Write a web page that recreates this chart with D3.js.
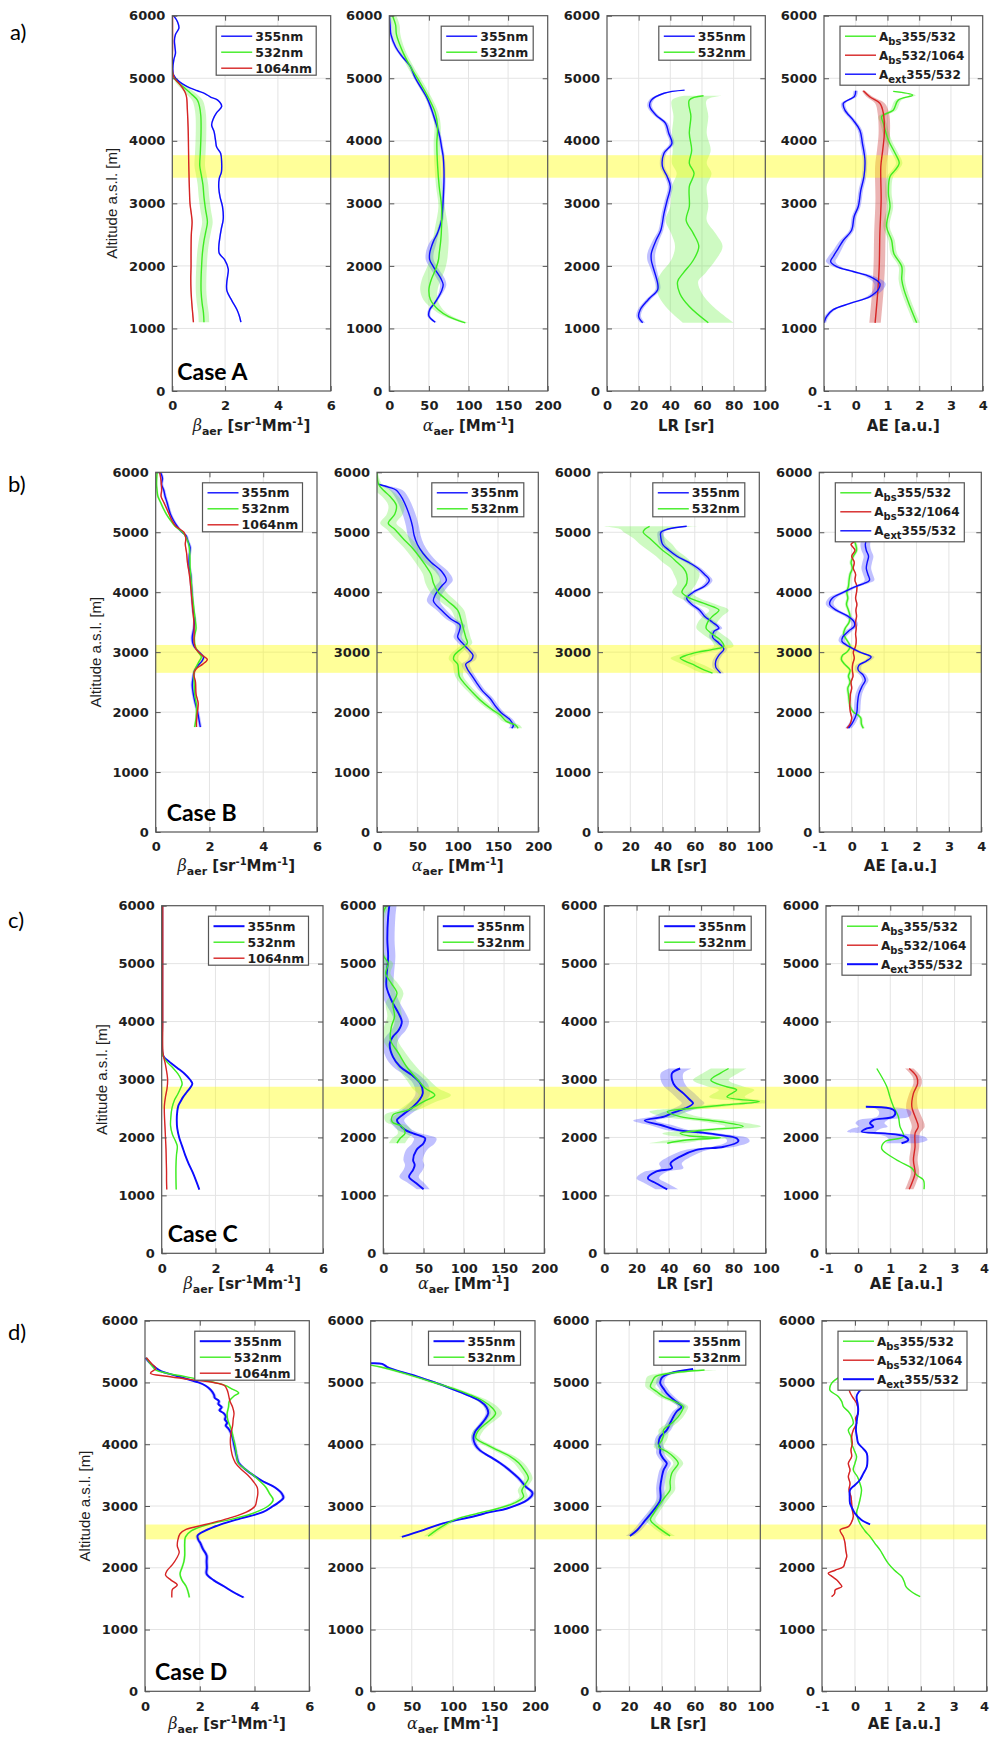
<!DOCTYPE html>
<html>
<head>
<meta charset="utf-8">
<script src="https://cdn.jsdelivr.net/npm/d3@7"></script>
<style>
  body { margin: 0; background: #fff; }
  svg { display: block; }
</style>
</head>
<body>
<svg id="fig" width="990" height="1739"></svg>
<script>
// ---------------------------------------------------------------
// Lidar profiles, four cases. Each point: [altitude m, value, (uncertainty)]
// ---------------------------------------------------------------
const altTicks   = [0, 1000, 2000, 3000, 4000, 5000, 6000];
const betaTicks  = [0, 2, 4, 6];
const alphaTicks = [0, 50, 100, 150, 200];
const lrTicks    = [0, 20, 40, 60, 80, 100];
const aeTicks    = [-1, 0, 1, 2, 3, 4];

const caseNames = ["Case A", "Case B", "Case C", "Case D"];
const rowLabels = ["a)", "b)", "c)", "d)"];
const wavelengths = ["355nm", "532nm", "1064nm"];
const aeNames = [["A", "bs", "355/532"], ["A", "bs", "532/1064"], ["A", "ext", "355/532"]];

// highlighted layer per case [bottom, top] in m
const layerBounds = [[3410, 3770], [2655, 3120], [2495, 2875], [2460, 2700]];

// ---------------- Case A ----------------
const caseA_beta355 = [[6000,0.05],[5900,0.2],[5800,0.25],[5700,0.12],[5600,0.08],[5500,0.1],[5400,0.12],[5300,0.06],[5150,0.02],[5050,0.05],[4950,0.25],[4870,0.55],[4800,0.95],[4750,1.25],[4700,1.45],[4650,1.72],[4550,1.87],[4450,1.68],[4350,1.55],[4250,1.49],[4150,1.58],[4000,1.64],[3900,1.68],[3800,1.83],[3650,1.87],[3500,1.86],[3400,1.78],[3250,1.76],[3100,1.81],[2950,1.9],[2750,1.93],[2600,1.86],[2450,1.8],[2300,1.76],[2200,1.78],[2100,1.98],[1950,2.12],[1850,2.1],[1720,2.06],[1600,2.07],[1450,2.25],[1300,2.45],[1200,2.54],[1100,2.6]];
const caseA_beta532 = [[6000,0,0],[5100,0,0],[5000,0.08,0.05],[4920,0.25,0.1],[4850,0.45,0.15],[4750,0.72],[4650,0.95],[4550,1.03],[4400,1.08],[4200,1.09],[4000,1.08],[3800,1.06],[3600,1.04],[3450,1.1],[3300,1.16],[3100,1.2],[2900,1.26],[2700,1.33],[2550,1.27],[2400,1.2],[2200,1.14],[2000,1.11],[1800,1.09],[1600,1.09],[1400,1.13],[1250,1.18],[1100,1.2]];
const caseA_beta1064 = [[6000,0.01],[5500,0.01],[5100,0.01],[5000,0.08],[4920,0.25],[4850,0.38],[4780,0.48],[4700,0.54],[4500,0.57],[4200,0.6],[4000,0.61],[3700,0.62],[3500,0.63],[3200,0.65],[3000,0.67],[2800,0.73],[2700,0.75],[2500,0.72],[2200,0.71],[2000,0.71],[1800,0.7],[1600,0.71],[1400,0.74],[1250,0.77],[1100,0.8]];
const caseA_alpha355 = [[6000,0],[5850,1],[5700,2],[5500,8],[5350,16],[5200,26],[5000,33],[4850,40],[4700,47],[4550,52],[4400,56],[4200,61],[4050,64],[3900,66],[3750,68],[3550,69],[3350,69],[3050,68],[2850,67],[2730,66],[2600,63],[2500,60],[2400,56,4],[2300,53,5],[2200,51,5],[2100,51,5],[2000,55,5],[1900,60,5],[1800,65,5],[1700,68,4],[1600,66,3],[1500,62],[1400,57],[1300,51],[1200,50],[1100,58]];
const caseA_alpha532 = [[6000,4,5],[5850,8,5],[5700,9,5],[5450,16],[5200,26],[4970,37],[4700,49],[4450,58],[4230,61],[3960,60],[3600,61],[3270,63],[2950,66],[2630,66,8],[2410,65,10],[2200,63,11],[2090,62,11],[1930,58,12],[1780,53,12],[1620,50,11],[1460,52,9],[1300,62,6],[1190,75,5],[1090,96,4]];
const caseA_lr355 = [[4810,49],[4760,36],[4650,28],[4550,27],[4410,31],[4280,37],[4120,39],[3960,41],[3800,36],[3590,35],[3430,38],[3270,40],[3050,38],[2840,36],[2570,34],[2410,31,2],[2200,28,2.5],[2090,28,2.5],[1990,29,2],[1720,32],[1620,32],[1460,26],[1300,21],[1190,20],[1090,22.5]];
const caseA_lr532 = [[4720,61,12],[4650,52,11],[4390,53,11],[4120,52,11],[3850,53.5,12],[3640,52,11],[3480,55,11],[3270,52,11],[2950,52,12],[2730,50,13],[2520,54.5,14],[2310,58,15],[2090,54.5,14],[1880,48,14],[1750,44.6,13],[1560,46,14],[1350,52,15],[1090,64,16]];
const caseA_aeBs355 = [[4790,1.18],[4730,1.79],[4650,1.34],[4490,1.18],[4390,0.82],[4280,0.87],[4010,1.03],[3800,1.24],[3640,1.37],[3530,1.24],[3430,1.08],[3160,1.03],[2950,1.08],[2630,0.97],[2410,1.13],[2200,1.2],[1990,1.45],[1780,1.45],[1620,1.52],[1350,1.71],[1090,1.92]];
const caseA_aeBs532 = [[4800,0.24,0.05],[4700,0.45,0.1],[4600,0.76,0.15],[4440,0.87],[4120,0.9],[3850,0.85],[3590,0.79],[3050,0.8],[2520,0.76],[1990,0.74],[1560,0.69],[1090,0.61]];
const caseA_aeExt = [[4800,0],[4710,-0.04],[4600,-0.39],[4490,-0.34],[4330,-0.08],[4170,0.13],[3960,0.21],[3690,0.29],[3430,0.26],[3210,0.16],[2950,0.08],[2790,-0.05],[2570,-0.13],[2410,-0.39,0.1],[2280,-0.55,0.12],[2150,-0.71,0.15],[2070,-0.79,0.15],[1990,-0.6,0.12],[1910,-0.08,0.1],[1830,0.45,0.15],[1720,0.76,0.18],[1620,0.71,0.15],[1510,0.45,0.1],[1400,-0.18],[1300,-0.71],[1190,-0.92],[1090,-1]];

// ---------------- Case B ----------------
const caseB_beta355 = [[6000,0.18],[5900,0.25],[5800,0.22],[5700,0.3],[5600,0.35],[5500,0.42],[5400,0.48],[5300,0.55],[5200,0.66],[5100,0.8],[5000,0.98],[4950,1.12],[4850,1.2],[4750,1.28],[4600,1.25],[4450,1.24],[4300,1.3],[4100,1.33],[3900,1.36],[3700,1.39],[3550,1.45],[3400,1.42],[3250,1.36],[3150,1.38],[3080,1.45],[3000,1.62],[2920,1.78],[2850,1.72],[2780,1.58],[2700,1.45],[2600,1.4],[2450,1.36],[2300,1.4],[2150,1.47],[2000,1.56],[1850,1.62],[1750,1.66]];
const caseB_beta532 = [[6000,0.05],[5800,0.03],[5700,0.05],[5600,0.08],[5500,0.18],[5400,0.28],[5300,0.4],[5200,0.55],[5100,0.72],[5000,1.0],[4900,1.15],[4750,1.25],[4600,1.27],[4400,1.28],[4200,1.32],[4000,1.35],[3800,1.4],[3600,1.45],[3400,1.5],[3250,1.44],[3100,1.47],[3000,1.58],[2920,1.7],[2850,1.62],[2750,1.5],[2650,1.42],[2500,1.43],[2300,1.45],[2100,1.52],[1900,1.5],[1750,1.45]];
const caseB_beta1064 = [[6000,0.15],[5850,0.2],[5700,0.22],[5600,0.2],[5500,0.3],[5400,0.4],[5300,0.5],[5200,0.6],[5100,0.75],[5000,1.05],[4900,1.12],[4800,1.1],[4650,1.15],[4500,1.18],[4300,1.25],[4100,1.3],[3900,1.34],[3700,1.38],[3500,1.42],[3300,1.43],[3150,1.43],[3050,1.5],[2950,1.72],[2880,1.92],[2800,1.75],[2720,1.5],[2640,1.42],[2500,1.48],[2300,1.5],[2150,1.58],[2000,1.55],[1850,1.52],[1750,1.52]];
const caseB_alpha355 = [[5800,2,2],[5750,15,6],[5700,24],[5550,32],[5400,37],[5250,41],[5100,44],[4950,46],[4800,50],[4650,57],[4500,67],[4350,80],[4200,86],[4100,80],[3950,72],[3850,70],[3700,80,6],[3550,92,6],[3450,103,6],[3350,102,5],[3250,100,5],[3150,106,5],[3050,113,5],[2950,119,5],[2870,117,5],[2800,110,5],[2720,112,5],[2620,117,4],[2500,123,4],[2350,131,4],[2230,140,4],[2080,148,4],[1990,154,4],[1870,165,4],[1770,169,4],[1730,167,4]];
const caseB_alpha532 = [[6000,0,1],[5800,2,4],[5700,8],[5600,16],[5450,24],[5300,22],[5150,14],[5050,22],[4900,32],[4750,43],[4600,52],[4450,60],[4300,67],[4150,70],[4000,76],[3850,88],[3700,100,8],[3550,104,7],[3400,107,6],[3250,110,6],[3150,112,6],[3050,104,6],[2950,96,6],[2880,95,6],[2800,100,6],[2700,101,6],[2600,102,5],[2500,107,5],[2350,117,5],[2200,128,5],[2050,142,5],[1950,153,5],[1850,160,5],[1780,172,5],[1730,175,5]];
const caseB_lr355 = [[5100,55],[5050,43],[5000,39],[4900,39],[4800,40],[4700,44],[4600,49],[4500,56],[4400,62],[4300,66],[4200,69],[4100,66],[4000,59],[3900,55],[3800,58],[3700,63],[3600,66],[3500,71],[3400,75],[3350,72],[3250,71],[3150,75],[3050,78],[2950,75],[2850,73],[2750,73],[2680,75],[2650,76]];
const caseB_lr532 = [[5100,32,30],[5050,29,15],[5000,28,12],[4900,32,10],[4800,36,10],[4700,40,9],[4600,45,9],[4500,49,9],[4400,53,8],[4300,55,8],[4150,55],[4000,52],[3900,57],[3800,67],[3700,75],[3600,71],[3500,68],[3400,67],[3300,71],[3200,76],[3100,78],[3050,72],[3000,62],[2950,55],[2900,51],[2850,54],[2780,60],[2700,66],[2650,71]];
const caseB_aeBs355 = [[5000,-0.05],[4900,0.05],[4800,0.12],[4700,0.15],[4600,0.05],[4500,-0.02],[4400,0.02],[4300,-0.05],[4200,-0.08],[4100,-0.1],[4000,-0.15],[3900,-0.12],[3800,-0.16],[3700,-0.1],[3600,-0.05],[3500,-0.08],[3400,-0.2],[3300,-0.25],[3200,-0.15],[3100,-0.05],[3000,-0.15],[2950,-0.28],[2880,-0.32],[2800,-0.22],[2700,-0.05],[2600,-0.1],[2500,-0.05],[2400,-0.12],[2300,-0.1],[2200,-0.08],[2100,-0.05],[2000,0.05],[1950,0.2],[1900,0.28],[1800,0.3],[1730,0.36]];
const caseB_aeBs532 = [[5050,0.15],[5000,0.05],[4950,-0.02],[4900,-0.05],[4850,0.08],[4800,-0.02],[4700,0.1],[4600,0.0],[4500,0.08],[4400,0.05],[4300,0.12],[4200,0.1],[4100,0.16],[4000,0.15],[3900,0.12],[3800,0.16],[3700,0.13],[3600,0.15],[3500,0.12],[3400,0.14],[3300,0.12],[3200,0.14],[3100,0.12],[3000,0.05],[2900,0.08],[2800,0.03],[2700,0.02],[2600,0.04],[2500,-0.02],[2400,0.0],[2300,-0.04],[2200,-0.05],[2100,-0.06],[2000,-0.04],[1900,0.0],[1800,-0.05],[1730,-0.15]];
const caseB_aeExt = [[5050,1.1,0.1],[5000,0.85,0.15],[4900,0.48,0.15],[4800,0.42,0.15],[4700,0.45,0.15],[4600,0.52,0.15],[4500,0.48,0.15],[4400,0.45,0.15],[4300,0.5,0.15],[4200,0.55,0.15],[4150,0.4,0.12],[4100,0.15,0.1],[4000,-0.25,0.1],[3900,-0.6,0.12],[3800,-0.68,0.12],[3700,-0.48,0.1],[3600,-0.12],[3500,0.08],[3430,0.08],[3350,-0.1],[3250,-0.28],[3180,-0.3],[3100,-0.1],[3000,0.25],[2920,0.6],[2850,0.45],[2780,0.22],[2700,0.2],[2620,0.35],[2530,0.42],[2430,0.32],[2300,0.22],[2150,0.18],[2000,0.16],[1900,0.1],[1800,0.0],[1730,-0.1]];

// ---------------- Case C ----------------
const caseC_beta355 = [[6000,0.02],[5000,0.02],[4000,0.02],[3450,0.03],[3380,0.1],[3300,0.3],[3200,0.58],[3100,0.85],[3000,1.05],[2930,1.14],[2870,1.08],[2780,0.93],[2700,0.8],[2620,0.7],[2550,0.62],[2450,0.58],[2300,0.56],[2150,0.58],[2000,0.65],[1850,0.76],[1700,0.87],[1550,1.0],[1400,1.15],[1250,1.28],[1100,1.4]];
const caseC_beta532 = [[6000,0.0],[5200,0.0],[4000,0.0],[3450,0.02],[3380,0.08],[3300,0.2],[3200,0.42],[3100,0.6],[3000,0.72],[2920,0.76],[2850,0.7],[2750,0.6],[2650,0.48],[2500,0.38],[2350,0.34],[2200,0.33],[2050,0.4],[1950,0.5],[1850,0.58],[1700,0.55],[1500,0.53],[1300,0.53],[1100,0.54]];
const caseC_beta1064 = [[6000,0.04],[5000,0.04],[4000,0.04],[3450,0.05],[3300,0.12],[3150,0.18],[3000,0.22],[2850,0.2],[2700,0.14],[2550,0.1],[2400,0.1],[2200,0.12],[2000,0.14],[1800,0.16],[1600,0.17],[1400,0.18],[1250,0.18],[1100,0.19]];
const caseC_alpha355 = [[6000,7.5],[5810,6],[5410,5],[5120,6],[4775,4],[4600,4],[4370,10],[4140,19],[4000,23],[3850,19],[3740,12],[3620,8],[3390,12],[3220,21],[3080,35],[2930,46],[2760,49],[2650,45],[2530,37],[2420,27],[2300,17],[2240,19],[2130,27],[2070,37,10],[1985,52,14],[1900,50,14],[1780,41,13],[1610,37,12],[1525,39,12],[1440,37,12],[1320,32,12],[1210,41,10],[1105,50,8]];
const caseC_alpha532 = [[6000,4,6],[5870,0,3],[5150,0,2],[5005,6,6],[4830,3,6],[4660,10,8],[4490,17,8],[4315,12],[4085,14],[3910,10],[3680,9],[3450,19],[3220,29,12],[2990,43,14],[2850,52,16],[2730,64,20],[2620,50,16],[2475,31,12],[2390,12,10],[2270,11,8],[2190,23,8],[2070,27,9],[1985,21,10],[1900,17,10]];
const caseC_lr355 = [[3190,47],[3110,42],[2990,42],[2880,44],[2760,49],[2650,53],[2590,55],[2500,50],[2420,42],[2360,37],[2290,25],[2215,35],[2130,45],[2083,61],[2040,72],[1985,82],[1930,83],[1840,74],[1785,57],[1670,47],[1550,41],[1470,42],[1410,32],[1295,27],[1210,32],[1105,39]];
const caseC_lr532 = [[3190,77],[3110,72],[2990,66],[2880,75],[2820,82],[2700,76],[2620,96],[2560,74],[2500,53],[2445,39],[2360,47],[2270,72],[2190,86],[2130,63],[2070,47],[2025,53],[1995,72],[1955,51],[1900,39]];
const caseC_aeBs355 = [[3190,0.58],[2880,0.89],[2700,0.99],[2530,1.1],[2360,1.25],[2190,1.3],[2015,1.41],[1930,0.84],[1810,0.73],[1700,0.94],[1580,1.3],[1470,1.67],[1350,1.82],[1265,2.03],[1105,2.05]];
const caseC_aeBs532 = [[3190,1.59],[3050,1.82],[2930,1.85],[2760,1.72],[2530,1.67,0.18],[2360,1.77,0.2],[2190,1.87,0.2],[2070,1.77,0.15],[1840,1.77],[1610,1.72],[1380,1.77],[1210,1.67],[1105,1.59]];
const caseC_aeExt = [[2530,0.24,0.3],[2500,0.99,0.45],[2445,1.15,0.5],[2360,1.1,0.5],[2300,0.47,0.45],[2245,0.37,0.45],[2185,0.47,0.45],[2155,0.27,0.45],[2100,0.11,0.45],[2070,0.84,0.5],[2015,1.46,0.6],[1955,1.56,0.6],[1900,1.35,0.5]];

// ---------------- Case D ----------------
const caseD_beta355 = [[5400,0.02],[5330,0.15],[5250,0.35],[5180,0.6],[5120,1.05],[5060,1.5],[5000,1.95],[4950,2.2],[4880,2.4],[4800,2.52],[4750,2.55],[4700,2.7],[4650,2.68],[4600,2.8],[4550,2.72],[4500,2.88],[4450,2.95],[4400,2.92],[4350,3.0],[4300,2.95],[4250,3.05],[4200,3.12],[4100,3.2],[4000,3.25],[3900,3.3],[3800,3.35],[3700,3.42],[3600,3.65],[3500,3.95],[3400,4.3],[3300,4.75],[3200,5.0],[3130,5.05],[3050,4.85],[3000,4.68],[2900,4.3],[2800,3.5],[2700,2.75],[2600,2.2],[2520,1.92],[2450,1.95],[2400,2.02],[2300,2.12],[2200,2.25],[2100,2.25],[2000,2.26],[1900,2.25],[1800,2.5],[1700,2.88],[1600,3.25],[1520,3.6]];
const caseD_beta532 = [[5400,0.05],[5300,0.2],[5200,0.4],[5150,0.8],[5100,1.4],[5050,2.0],[5000,2.55],[4950,2.95],[4900,3.15],[4830,3.42],[4780,3.25],[4700,3.08],[4600,3.05],[4500,3.0],[4400,3.02],[4300,3.1],[4200,3.18],[4100,3.22],[4000,3.28],[3900,3.32],[3800,3.35],[3700,3.4],[3600,3.65],[3500,3.95],[3400,4.2],[3300,4.42],[3200,4.55],[3100,4.68],[3000,4.5],[2900,4.05],[2800,3.3],[2700,2.3],[2600,1.7],[2500,1.48],[2400,1.45],[2300,1.45],[2200,1.45],[2100,1.42],[2000,1.35],[1900,1.28],[1800,1.35],[1700,1.5],[1600,1.58],[1520,1.62]];
const caseD_beta1064 = [[5400,0.05],[5300,0.25],[5230,0.4],[5150,0.2],[5100,0.8],[5050,1.6],[5000,2.5],[4950,2.9],[4880,3.0],[4800,3.05],[4700,3.1],[4600,3.2],[4500,3.25],[4400,3.22],[4300,3.2],[4200,3.15],[4100,3.12],[4000,3.12],[3900,3.15],[3800,3.2],[3700,3.3],[3600,3.5],[3500,3.75],[3400,3.95],[3300,4.1],[3200,4.12],[3100,4.08],[3000,4.02],[2900,3.7],[2800,3.05],[2700,2.2],[2620,1.5],[2550,1.28],[2450,1.2],[2350,1.18],[2250,1.25],[2150,1.15],[2050,1.0],[1950,0.8],[1880,0.75],[1800,0.95],[1720,1.18],[1650,1.0],[1580,0.98],[1520,0.98]];
const caseD_alpha355 = [[5310,0],[5300,14],[5250,20],[5200,30],[5100,56],[5000,78],[4900,98],[4800,117],[4700,133],[4600,141],[4500,143],[4400,139],[4300,133],[4200,127],[4100,125],[4000,127],[3900,133],[3800,145],[3700,157],[3580,169],[3450,180],[3310,189],[3205,197],[3100,191],[2960,166],[2900,145],[2830,125],[2720,88],[2610,64],[2500,38]];
const caseD_alpha532 = [[5280,0],[5250,12],[5150,40],[5000,77],[4900,101],[4800,121],[4700,137,7],[4600,147,8],[4500,152,8],[4400,146,7],[4300,137,6],[4200,130,6],[4100,128],[4000,140],[3900,155],[3800,170,6],[3700,180,6],[3600,186,6],[3450,192],[3350,188],[3250,184],[3150,186],[3050,175],[2960,155],[2880,130],[2770,101],[2610,80],[2510,70]];
const caseD_lr355 = [[5218,59],[5148,45],[5080,40],[4986,39],[4900,41],[4824,43],[4700,48],[4608,52],[4530,49],[4446,47],[4340,45],[4231,43],[4120,39],[4015,38],[3930,39],[3853,39],[3760,41],[3691,43],[3580,41],[3475,40],[3300,39],[3097,39],[2935,35],[2774,30],[2612,25],[2515,20.5]];
const caseD_lr532 = [[5202,66,8],[5150,45,6],[5094,36,5],[5010,34,4],[4932,33],[4850,37],[4770,41],[4690,48],[4608,53],[4530,52],[4446,50],[4340,46],[4231,41],[4150,41],[4069,40],[3961,38],[3880,43],[3799,47],[3691,50],[3610,48],[3529,46],[3400,45],[3259,45],[3150,42],[3043,39],[2881,35],[2774,33],[2666,37],[2515,45]];
const caseD_aeBs355 = [[5094,-0.45],[4986,-0.71],[4878,-0.76],[4770,-0.5],[4690,-0.4],[4608,-0.35],[4530,-0.2],[4446,-0.1],[4338,-0.05],[4231,-0.2],[4120,-0.12],[4015,-0.1],[3900,-0.02],[3799,0.05],[3691,0.0],[3583,-0.05],[3470,0.08],[3367,0.15],[3259,0.2],[3097,0.15],[2990,0.1],[2881,0.05],[2720,0.15],[2600,0.3],[2504,0.46],[2400,0.6],[2288,0.76],[2180,0.88],[2072,1.01],[1960,1.2],[1856,1.42],[1770,1.5],[1694,1.55],[1600,1.75],[1532,1.98]];
const caseD_aeBs532 = [[5105,-0.5],[5067,0.15],[4986,-0.05],[4878,-0.17],[4770,-0.08],[4662,0.05],[4500,0.1],[4420,0.02],[4338,0.05],[4230,-0.05],[4123,-0.1],[4015,-0.08],[3907,-0.12],[3800,-0.1],[3691,-0.2],[3583,-0.15],[3475,-0.2],[3367,-0.15],[3259,-0.18],[3150,-0.12],[3043,-0.1],[2935,-0.08],[2827,-0.05],[2720,-0.12],[2666,-0.2],[2612,-0.45],[2500,-0.35],[2396,-0.3],[2290,-0.28],[2180,-0.25],[2100,-0.3],[2018,-0.35],[1960,-0.6],[1910,-0.81],[1860,-0.7],[1802,-0.55],[1740,-0.45],[1694,-0.4],[1640,-0.6],[1580,-0.62],[1532,-0.71]];
const caseD_aeExt = [[5105,-0.3],[5040,0.41],[4932,0.31],[4850,0.12],[4770,0.05],[4660,0.08],[4554,0.1],[4400,0.06],[4231,0.03],[4120,0.06],[4015,0.1],[3930,0.25],[3853,0.36],[3740,0.38],[3637,0.36],[3520,0.25],[3421,0.15],[3340,0.0],[3259,-0.15],[3150,-0.16],[3043,-0.15],[2960,-0.08],[2881,0.0],[2774,0.2],[2703,0.46]];

// default half-widths of the uncertainty shading for points without their own value
const uncertaintyA = [[0.03, 0.2, 0.02], [2, 4], [1.5, 12], [0.1, 0.18, 0.07]];
const uncertaintyB = [[0.06, 0.04, 0.02], [8, 10], [2, 6], [0.05, 0.02, 0.1]];
const uncertaintyC = [[0.02, 0.02, 0.01], [9, 9], [7, 11], [0, 0.13, 0.45]];
const uncertaintyD = [[0.07, 0.04, 0.0], [3, 5], [2.5, 3], [0.02, 0.02, 0.02]];

// ---------------------------------------------------------------
const cases = [
  { profiles: [[caseA_beta355, caseA_beta532, caseA_beta1064], [caseA_alpha355, caseA_alpha532], [caseA_lr355, caseA_lr532], [caseA_aeBs355, caseA_aeBs532, caseA_aeExt]], unc: uncertaintyA },
  { profiles: [[caseB_beta355, caseB_beta532, caseB_beta1064], [caseB_alpha355, caseB_alpha532], [caseB_lr355, caseB_lr532], [caseB_aeBs355, caseB_aeBs532, caseB_aeExt]], unc: uncertaintyB },
  { profiles: [[caseC_beta355, caseC_beta532, caseC_beta1064], [caseC_alpha355, caseC_alpha532], [caseC_lr355, caseC_lr532], [caseC_aeBs355, caseC_aeBs532, caseC_aeExt]], unc: uncertaintyC },
  { profiles: [[caseD_beta355, caseD_beta532, caseD_beta1064], [caseD_alpha355, caseD_alpha532], [caseD_lr355, caseD_lr532], [caseD_aeBs355, caseD_aeBs532, caseD_aeExt]], unc: uncertaintyD }
];

// page layout of the four rows of panels
const rows = [
  { top: 15.7,  bottom: 391,    panels: [[172.3,330.7],[389.3,547.7],[607,765.3],[824,982.7]], labelX: 10, labelY: 40,   caseDx: 5,  xLabelDy: 40, thickBlue: false },
  { top: 472.3, bottom: 832,    panels: [[155.7,317],[377,538.3],[598,759.3],[819.3,981.3]],   labelX: 8,  labelY: 492,  caseDx: 11, xLabelDy: 39, thickBlue: false },
  { top: 905.7, bottom: 1253.3, panels: [[161.7,323],[383.3,544.3],[604.3,765.7],[826,986.7]], labelX: 8,  labelY: 928,  caseDx: 6,  xLabelDy: 36, thickBlue: true },
  { top: 1320.7, bottom: 1691.3, panels: [[145,309.3],[370.7,535],[596.3,760.3],[822,986.7]],  labelX: 8,  labelY: 1340, caseDx: 10, xLabelDy: 38, thickBlue: true }
];

const kinds = [
  { domain: [0, 6],   ticks: betaTicks },
  { domain: [0, 200], ticks: alphaTicks },
  { domain: [0, 100], ticks: lrTicks },
  { domain: [-1, 4],  ticks: aeTicks }
];

const COL  = { blue: "#0c0cff", green: "#3eec22", red: "#d62424" };
const FILL = { blue: "#4a4aff", green: "#66f040", red: "#cc4444" };
const FOP  = { blue: 0.35, green: 0.32, red: 0.4 };
const seriesColors = [["blue","green","red"], ["blue","green"], ["blue","green"], ["green","red","blue"]];

const TICKFONT = "'DejaVu Sans', sans-serif";
const plainNumber = d => String(d);   // hyphen-minus, as in the axis labels
const svg = d3.select("#fig");
const defs = svg.append("defs");

function axisStyle(g) {
  g.select(".domain").remove();
  g.selectAll(".tick line").attr("stroke", "#555").attr("stroke-width", 1);
  g.selectAll(".tick text").attr("fill", "#1e1e1e")
    .style("font-family", TICKFONT).style("font-size", "13px").style("font-weight", "bold");
}

// keep tick labels inside the page width
function keepInside(g) {
  g.selectAll(".tick text").each(function () {
    const b = this.getBoundingClientRect();
    if (b.right > 989) {
      const cur = +d3.select(this).attr("x") || 0;
      d3.select(this).attr("x", cur - (b.right - 989));
    }
  });
}

function xLabel(g, cx, yb, pi) {
  const t = g.append("text").attr("x", cx).attr("y", yb).attr("text-anchor", "middle")
    .attr("fill", "#1e1e1e").style("font-family", TICKFONT).style("font-size", "15px").style("font-weight", "bold");
  const greek = (s) => t.append("tspan").text(s).style("font-family", "'DejaVu Serif', serif")
    .style("font-style", "italic").style("font-weight", "normal").style("font-size", "16px");
  const sub = (s) => t.append("tspan").attr("dy", 4).style("font-size", "11px").text(s);
  const sup = (s) => t.append("tspan").attr("dy", -6).style("font-size", "10px").text(s);
  const norm = (s, dy) => t.append("tspan").attr("dy", dy).text(s);
  if (pi === 0) {
    greek("β"); sub("aer"); norm(" [sr", -4); sup("-1"); norm("Mm", 6); sup("-1"); norm("]", 6);
  } else if (pi === 1) {
    greek("α"); sub("aer"); norm(" [Mm", -4); sup("-1"); norm("]", 6);
  } else if (pi === 2) {
    t.text("LR [sr]");
  } else {
    t.text("AE [a.u.]");
  }
}

function drawLegend(g, px, top, pi, thickBlue) {
  const n = seriesColors[pi].length;
  const ae = pi === 3;
  const w = ae ? 129 : (pi === 0 ? 100 : 92);
  const step = ae ? 19 : 16;
  const h = ae ? 59 : (n === 3 ? 49 : 34);
  const x0 = ae ? px[0] + 16 : px[1] - 14.5 - w;
  const y0 = top + 10.5;
  g.append("rect").attr("x", x0).attr("y", y0).attr("width", w).attr("height", h)
    .attr("fill", "#fff").attr("stroke", "#555").attr("stroke-width", 1.2);
  seriesColors[pi].forEach((c, k) => {
    const yy = y0 + 10 + k * step;
    g.append("line").attr("x1", x0 + 5).attr("x2", x0 + 36).attr("y1", yy).attr("y2", yy)
      .attr("stroke", COL[c]).attr("stroke-width", thickBlue && c === "blue" ? 2 : 1.4);
    const t = g.append("text").attr("x", x0 + 39).attr("y", yy + 4.5).attr("fill", "#1e1e1e")
      .style("font-family", TICKFONT).style("font-weight", "bold").style("font-size", ae ? "12px" : "12.5px");
    if (ae) {
      const nm = aeNames[k];
      t.append("tspan").text(nm[0]);
      t.append("tspan").attr("dy", 4).style("font-size", "10px").text(nm[1]);
      t.append("tspan").attr("dy", -4).text(nm[2]);
    } else {
      t.text(wavelengths[k]);
    }
  });
}

rows.forEach((row, ri) => {
  const cs = cases[ri];
  const y = d3.scaleLinear().domain([0, 6000]).range([row.bottom, row.top]);
  const gRow = svg.append("g");
  const panels = row.panels.map((px, pi) => ({
    px, pi, x: d3.scaleLinear().domain(kinds[pi].domain).range(px)
  }));

  // clip regions
  panels.forEach(p => {
    defs.append("clipPath").attr("id", `clip-${ri}-${p.pi}`).append("rect")
      .attr("x", p.px[0]).attr("y", row.top).attr("width", p.px[1] - p.px[0]).attr("height", row.bottom - row.top);
  });

  // grid
  panels.forEach(p => {
    const g = gRow.append("g");
    g.selectAll("line.gx").data(kinds[p.pi].ticks.slice(1, -1)).join("line")
      .attr("x1", d => p.x(d)).attr("x2", d => p.x(d)).attr("y1", row.top).attr("y2", row.bottom)
      .attr("stroke", "#e4e4e4").attr("stroke-width", 1);
    g.selectAll("line.gy").data(altTicks.slice(1, -1)).join("line")
      .attr("x1", p.px[0]).attr("x2", p.px[1]).attr("y1", d => y(d)).attr("y2", d => y(d))
      .attr("stroke", "#e4e4e4").attr("stroke-width", 1);
  });

  // uncertainty shading
  panels.forEach(p => {
    const g = gRow.append("g").attr("clip-path", `url(#clip-${ri}-${p.pi})`);
    cs.profiles[p.pi].forEach((data, si) => {
      const c = seriesColors[p.pi][si];
      const def = cs.unc[p.pi][si];
      const e = d => (d.length > 2 ? d[2] : def);
      if (!data.some(d => e(d) > 0)) return;
      const area = d3.area()
        .y(d => y(d[0]))
        .x0(d => p.x(d[1] - e(d)))
        .x1(d => p.x(d[1] + e(d)))
        .curve(d3.curveCatmullRom.alpha(0.5));
      g.append("path").attr("d", area(data)).attr("fill", FILL[c]).attr("fill-opacity", FOP[c]);
    });
  });

  // highlighted layer across the row
  const lb = layerBounds[ri];
  gRow.append("rect")
    .attr("x", row.panels[0][0]).attr("width", row.panels[3][1] - row.panels[0][0])
    .attr("y", y(lb[1])).attr("height", y(lb[0]) - y(lb[1]))
    .attr("fill", "#ffff00").attr("fill-opacity", 0.4);

  // profiles
  panels.forEach(p => {
    const g = gRow.append("g").attr("clip-path", `url(#clip-${ri}-${p.pi})`);
    const line = d3.line().y(d => y(d[0])).x(d => p.x(d[1])).curve(d3.curveCatmullRom.alpha(0.5));
    cs.profiles[p.pi].forEach((data, si) => {
      const c = seriesColors[p.pi][si];
      g.append("path").attr("d", line(data)).attr("fill", "none")
        .attr("stroke", COL[c]).attr("stroke-width", row.thickBlue && c === "blue" ? 1.9 : 1.4)
        .attr("stroke-linejoin", "round");
    });
  });

  // axes, box, legends, labels
  panels.forEach(p => {
    const g = gRow.append("g");
    g.append("g").attr("transform", `translate(${p.px[0]},0)`)
      .call(d3.axisLeft(y).tickValues(altTicks).tickSizeInner(-5).tickSizeOuter(0).tickPadding(7).tickFormat(plainNumber))
      .call(axisStyle);
    g.append("g").attr("transform", `translate(${p.px[1]},0)`)
      .call(d3.axisRight(y).tickValues(altTicks.slice(1, -1)).tickSizeInner(-5).tickSizeOuter(0).tickFormat(""))
      .call(axisStyle);
    g.append("g").attr("transform", `translate(0,${row.bottom})`)
      .call(d3.axisBottom(p.x).tickValues(kinds[p.pi].ticks).tickSizeInner(-5).tickSizeOuter(0).tickPadding(10).tickFormat(plainNumber))
      .call(axisStyle)
      .call(keepInside);
    g.append("g").attr("transform", `translate(0,${row.top})`)
      .call(d3.axisTop(p.x).tickValues(kinds[p.pi].ticks.slice(1, -1)).tickSizeInner(-5).tickSizeOuter(0).tickFormat(""))
      .call(axisStyle);
    g.append("rect").attr("x", p.px[0]).attr("y", row.top)
      .attr("width", p.px[1] - p.px[0]).attr("height", row.bottom - row.top)
      .attr("fill", "none").attr("stroke", "#555").attr("stroke-width", 1.2);

    drawLegend(g, p.px, row.top, p.pi, row.thickBlue);
    xLabel(g, (p.px[0] + p.px[1]) / 2, row.bottom + row.xLabelDy, p.pi);
  });

  // y-axis title
  const yl = row.panels[0][0] - 55, yc = (row.top + row.bottom) / 2;
  gRow.append("text").attr("transform", `translate(${yl},${yc}) rotate(-90)`)
    .attr("text-anchor", "middle").attr("fill", "#1e1e1e")
    .style("font-family", "'Liberation Sans', Arial, sans-serif").style("font-size", "15px")
    .text("Altitude a.s.l. [m]");

  // case name inside the first panel
  gRow.append("text").attr("x", row.panels[0][0] + row.caseDx).attr("y", row.bottom - 11)
    .attr("fill", "#000").style("font-family", "Lato, sans-serif").style("font-weight", "bold")
    .style("font-size", "23px").text(caseNames[ri]);

  // row letter
  gRow.append("text").attr("x", row.labelX).attr("y", row.labelY)
    .attr("fill", "#000").style("font-family", "Lato, sans-serif").style("font-size", "22px")
    .text(rowLabels[ri]);
});
</script>
</body>
</html>
